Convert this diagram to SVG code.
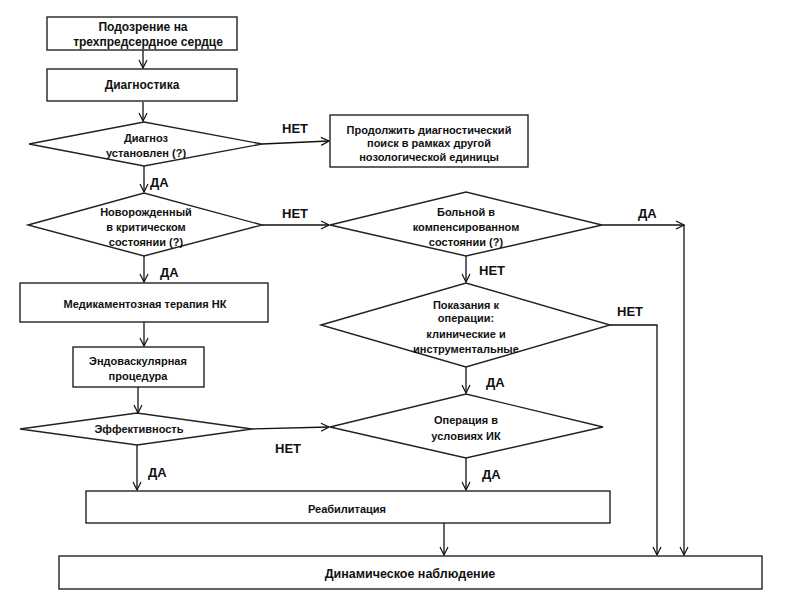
<svg xmlns="http://www.w3.org/2000/svg" width="800" height="608" viewBox="0 0 800 608">
<defs>
<marker id="arr" markerWidth="10" markerHeight="10" refX="9" refY="5" orient="auto" markerUnits="userSpaceOnUse">
<path d="M1,1 L9,5 L1,9" fill="none" stroke="#111" stroke-width="1.2"/>
</marker>
<style>
.b{fill:#fff;stroke:#222;stroke-width:1.4}
.t{font-family:"Liberation Sans",Arial,sans-serif;font-weight:bold;font-size:11px;fill:#111;text-anchor:middle}
.t12{font-size:12px}
.l{font-family:"Liberation Sans",Arial,sans-serif;font-weight:bold;font-size:13px;fill:#111}
.c{fill:none;stroke:#111;stroke-width:1.3}
</style>
</defs>
<rect width="800" height="608" fill="#fff"/>
<g id="connectors">
<line class="c" x1="143" y1="50" x2="143" y2="68" marker-end="url(#arr)"/>
<line class="c" x1="143" y1="102" x2="143" y2="121" marker-end="url(#arr)"/>
<line class="c" x1="262" y1="144" x2="329" y2="141" marker-end="url(#arr)"/>
<line class="c" x1="144" y1="166" x2="144" y2="192" marker-end="url(#arr)"/>
<line class="c" x1="262" y1="225" x2="329" y2="225" marker-end="url(#arr)"/>
<line class="c" x1="144" y1="256" x2="144" y2="282" marker-end="url(#arr)"/>
<line class="c" x1="144" y1="322" x2="144" y2="346" marker-end="url(#arr)"/>
<line class="c" x1="138" y1="387" x2="138" y2="413" marker-end="url(#arr)"/>
<line class="c" x1="252" y1="429" x2="329" y2="427" marker-end="url(#arr)"/>
<line class="c" x1="137" y1="445" x2="137" y2="490" marker-end="url(#arr)"/>
<line class="c" x1="602" y1="225" x2="684" y2="225" marker-end="url(#arr)"/>
<line class="c" x1="684" y1="225" x2="684" y2="555" marker-end="url(#arr)"/>
<line class="c" x1="466" y1="256" x2="466" y2="282" marker-end="url(#arr)"/>
<polyline class="c" points="610,325 657,325 657,555" marker-end="url(#arr)"/>
<line class="c" x1="466" y1="367" x2="466" y2="393" marker-end="url(#arr)"/>
<line class="c" x1="466" y1="458" x2="466" y2="490" marker-end="url(#arr)"/>
<line class="c" x1="444" y1="523" x2="444" y2="555" marker-end="url(#arr)"/>
<text class="l" x="282" y="133">НЕТ</text>
<text class="l" x="150" y="187">ДА</text>
<text class="l" x="282" y="218">НЕТ</text>
<text class="l" x="160" y="277">ДА</text>
<text class="l" x="638" y="218">ДА</text>
<text class="l" x="479" y="275">НЕТ</text>
<text class="l" x="617" y="316">НЕТ</text>
<text class="l" x="486" y="387">ДА</text>
<text class="l" x="275" y="453">НЕТ</text>
<text class="l" x="148" y="477">ДА</text>
<text class="l" x="482" y="479">ДА</text>
</g>
<g id="n1"><rect class="b" x="47" y="17" width="190" height="33"/>
<text class="t t12" x="143" y="31">Подозрение на</text>
<text class="t t12" x="148" y="46">трехпредсердное сердце</text></g>
<g id="n2"><rect class="b" x="47" y="69" width="190" height="32"/>
<text class="t t12" x="142" y="89">Диагностика</text></g>
<g id="n3"><polygon class="b" points="29,144 144,122 262,144 144,166"/>
<text class="t" x="146" y="142">Диагноз</text>
<text class="t" x="146" y="157">установлен (?)</text></g>
<g id="n4"><rect class="b" x="330" y="115" width="198" height="52"/>
<text class="t" x="429" y="134">Продолжить диагностический</text>
<text class="t" x="429" y="147">поиск в рамках другой</text>
<text class="t" x="429" y="161">нозологической единицы</text></g>
<g id="n5"><polygon class="b" points="28,225 144,193 262,225 144,256"/>
<text class="t" x="146" y="216">Новорожденный</text>
<text class="t" x="146" y="231">в критическом</text>
<text class="t" x="146" y="246">состоянии (?)</text></g>
<g id="n6"><polygon class="b" points="330,225 466,192 602,225 466,256"/>
<text class="t" x="466" y="216">Больной в</text>
<text class="t" x="466" y="231">компенсированном</text>
<text class="t" x="466" y="246">состоянии (?)</text></g>
<g id="n7"><rect class="b" x="20" y="283" width="248" height="39"/>
<text class="t" x="145" y="308">Медикаментозная терапия НК</text></g>
<g id="n8"><polygon class="b" points="321,325 466,283 610,325 466,367"/>
<text class="t" x="466" y="309">Показания к</text>
<text class="t" x="466" y="322">операции:</text>
<text class="t" x="466" y="338">клинические и</text>
<text class="t" x="466" y="353">инструментальные</text></g>
<g id="n9"><rect class="b" x="73" y="347" width="131" height="40"/>
<text class="t" x="138" y="365">Эндоваскулярная</text>
<text class="t" x="138" y="380">процедура</text></g>
<g id="n10"><polygon class="b" points="20,429 137,413 252,429 137,445"/>
<text class="t" x="139" y="433">Эффективность</text></g>
<g id="n11"><polygon class="b" points="330,427 466,394 603,427 466,458"/>
<text class="t" x="466" y="424">Операция в</text>
<text class="t" x="466" y="440">условиях ИК</text></g>
<g id="n12"><rect class="b" x="86" y="491" width="524" height="32"/>
<text class="t" x="347" y="513">Реабилитация</text></g>
<g id="n13"><rect class="b" x="59" y="556" width="703" height="33"/>
<text class="t" x="410" y="578" style="font-size:12.5px">Динамическое наблюдение</text></g>
</svg>
